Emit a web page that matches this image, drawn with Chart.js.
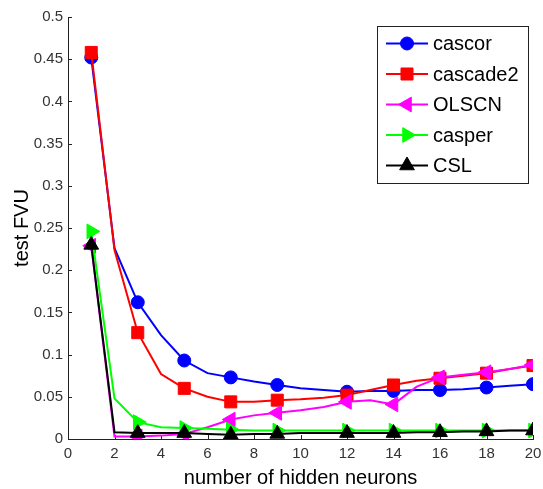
<!DOCTYPE html>
<html>
<head>
<meta charset="utf-8">
<script src="https://cdn.jsdelivr.net/npm/chart.js"></script>
<style>
  html, body { margin: 0; padding: 0; background: #fff; }
  #wrap { width: 543px; height: 489px; }
</style>
</head>
<body>
<div id="wrap"><canvas id="fvu" width="543" height="489"></canvas></div>
<script>
// hidden neurons 1..20, markers only on some of them
var neurons = [1,2,3,4,5,6,7,8,9,10,11,12,13,14,15,16,17,18,19,20];
var markedNeurons = [1,3,5,7,9,12,14,16,18,20];

var cascor   = [0.452,0.226,0.162,0.123,0.093,0.078,0.073,0.068,0.064,0.060,0.058,0.056,0.057,0.057,0.058,0.058,0.059,0.061,0.063,0.065];
var cascade2 = [0.458,0.224,0.126,0.077,0.060,0.050,0.044,0.044,0.046,0.047,0.049,0.052,0.058,0.064,0.069,0.072,0.075,0.078,0.083,0.087];
var olscn    = [0.229,0.003,0.003,0.004,0.006,0.014,0.023,0.028,0.031,0.034,0.038,0.044,0.046,0.041,0.062,0.073,0.076,0.079,0.083,0.088];
var casper   = [0.246,0.048,0.020,0.014,0.013,0.012,0.011,0.010,0.010,0.010,0.010,0.010,0.010,0.010,0.010,0.010,0.010,0.010,0.010,0.010];
var csl      = [0.230,0.008,0.007,0.007,0.007,0.006,0.005,0.006,0.006,0.007,0.007,0.007,0.007,0.007,0.008,0.008,0.009,0.009,0.010,0.010];

var seriesNames = ['cascor','cascade2','OLSCN','casper','CSL'];
var xTicks = [0,2,4,6,8,10,12,14,16,18,20];

function toPoints(values){
    var pts = [];
    for (var i=0;i<neurons.length;i++){
        pts.push({x: neurons[i], y: values[i]});
    }
    return pts;
}

function makeSeries(label, values, color, style, radius, rotation, order){
    return {
        label: label,
        data: toPoints(values),
        borderColor: color,
        backgroundColor: color,
        borderWidth: 2,
        pointStyle: style,
        pointRotation: rotation,
        pointBorderWidth: 1,
        pointBorderColor: color,
        pointBackgroundColor: color,
        pointRadius: function(ctx){
            return markedNeurons.indexOf(neurons[ctx.dataIndex]) >= 0 ? radius : 0;
        },
        legendRadius: radius,
        tension: 0,
        order: order
    };
}

// boxed legend in the top right corner of the plot
var boxLegend = {
    id: 'boxLegend',
    afterDraw: function(chart){
        var ctx = chart.ctx;
        var area = chart.chartArea;
        var w = 151, h = 157;
        var left = area.right - 5 - w;
        var top = area.top + 9;
        ctx.save();
        ctx.fillStyle = '#fff';
        ctx.fillRect(left, top, w, h);
        ctx.strokeStyle = '#222';
        ctx.lineWidth = 1;
        ctx.strokeRect(left + 0.5, top + 0.5, w, h);
        var sets = chart.data.datasets;
        for (var i=0;i<sets.length;i++){
            var ds = sets[i];
            var y = top + 17.5 + i*30.5;
            ctx.strokeStyle = ds.borderColor;
            ctx.lineWidth = 2;
            ctx.beginPath();
            ctx.moveTo(left + 9, y);
            ctx.lineTo(left + 51, y);
            ctx.stroke();
            ctx.fillStyle = ds.borderColor;
            ctx.lineWidth = 1;
            Chart.helpers.drawPoint(ctx, {
                pointStyle: ds.pointStyle,
                radius: ds.legendRadius,
                rotation: ds.pointRotation,
                borderWidth: 1
            }, left + 30, y);
            ctx.fillStyle = '#000';
            ctx.font = '20px "Liberation Sans", Arial, sans-serif';
            ctx.textBaseline = 'middle';
            ctx.textAlign = 'left';
            ctx.fillText(ds.label, left + 56, y + 1);
        }
        ctx.restore();
    }
};

// short tick marks pointing into the plot
var innerTicks = {
    id: 'innerTicks',
    beforeDatasetsDraw: function(chart){
        var ctx = chart.ctx;
        var area = chart.chartArea;
        var xs = chart.scales.x, ys = chart.scales.y;
        ctx.save();
        ctx.strokeStyle = '#222';
        ctx.lineWidth = 1;
        ctx.beginPath();
        xs.ticks.forEach(function(t){
            var px = Math.round(xs.getPixelForValue(t.value)) + 0.5;
            ctx.moveTo(px, area.bottom);
            ctx.lineTo(px, area.bottom - 4);
        });
        ys.ticks.forEach(function(t){
            var py = Math.round(ys.getPixelForValue(t.value)) + 0.5;
            ctx.moveTo(area.left, py);
            ctx.lineTo(area.left + 4, py);
        });
        ctx.stroke();
        ctx.restore();
    }
};

var tickFont = { family: '"Liberation Sans", Arial, sans-serif', size: 15 };
var titleFont = { family: '"Liberation Sans", Arial, sans-serif', size: 20, lineHeight: 1.1 };

new Chart(document.getElementById('fvu'), {
    type: 'line',
    data: {
        datasets: [
            makeSeries(seriesNames[0], cascor,   '#0000ff', 'circle',   6.5, 0,   5),
            makeSeries(seriesNames[1], cascade2, '#ff0000', 'rect',     8.5, 0,   4),
            makeSeries(seriesNames[2], olscn,    '#ff00ff', 'triangle', 8.5, -90, 3),
            makeSeries(seriesNames[3], casper,   '#00ff00', 'triangle', 8.5, 90,  2),
            makeSeries(seriesNames[4], csl,      '#000000', 'triangle', 8.5, 0,   1)
        ]
    },
    options: {
        responsive: false,
        animation: false,
        layout: { padding: { top: 17, right: 10, left: 0, bottom: 0 } },
        plugins: {
            legend: { display: false },
            tooltip: { enabled: false }
        },
        scales: {
            x: {
                type: 'linear',
                min: 0,
                max: 20,
                afterBuildTicks: function(scale){
                    scale.ticks = xTicks.map(function(v){ return {value: v}; });
                },
                afterFit: function(scale){
                    scale.height = 50;
                    scale.paddingRight = 0;
                    scale.paddingLeft = 0;
                },
                grid: { display: false, drawTicks: false },
                border: { display: true, color: '#222', width: 1 },
                ticks: { font: tickFont, color: '#333', padding: 6, maxRotation: 0 },
                title: { display: true, text: 'number of hidden neurons', font: titleFont, color: '#000', padding: 0 }
            },
            y: {
                type: 'linear',
                min: 0,
                max: 0.5,
                afterFit: function(scale){ scale.width = 68; },
                grid: { display: false, drawTicks: false },
                border: { display: true, color: '#222', width: 1 },
                ticks: {
                    stepSize: 0.05,
                    font: tickFont,
                    color: '#333',
                    padding: 5,
                    callback: function(v){ return String(parseFloat(v.toFixed(2))); }
                },
                title: { display: true, text: 'test FVU', font: titleFont, color: '#000', padding: { top: 11, bottom: 0 } }
            }
        }
    },
    plugins: [innerTicks, boxLegend]
});
</script>
</body>
</html>
